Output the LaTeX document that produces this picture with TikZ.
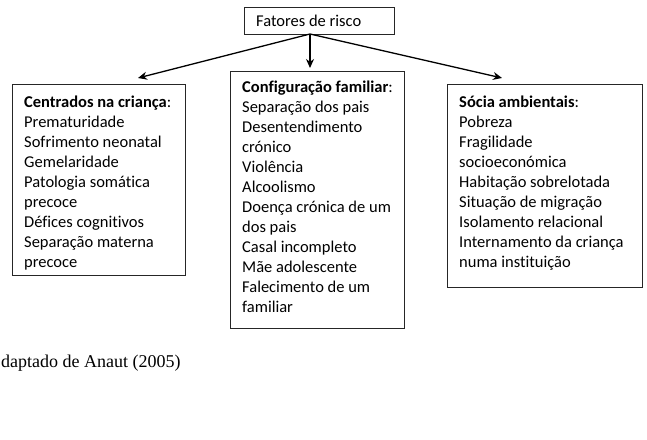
\documentclass[tikz,border=0pt]{standalone}
\usepackage{fontspec}
\setmainfont{Carlito}[Ligatures=CommonOff]
\newfontfamily\capfont{Liberation Serif}
\usetikzlibrary{arrows.meta}
\begin{document}
\begin{tikzpicture}[x=1pt,y=-1pt,
  boxstyle/.style={draw=black!85, line width=1pt, inner sep=0pt},
  txt/.style={anchor=north west, align=left, inner sep=0pt, font=\fontsize{16.5}{20}\selectfont},
  arr/.style={line width=1.3pt, -{Stealth[length=9pt,width=8pt]}}]
\useasboundingbox (0,0) rectangle (647,439);
\fill[white] (0,0) rectangle (647,439);
% boxes
\node[boxstyle, minimum width=150pt, minimum height=27pt, anchor=north west] (top) at (244,7) {};
\node[anchor=base west, inner sep=0pt, font=\fontsize{16.5}{20}\selectfont] (toptxt) at (256,26) {Fatores de risco};
\node[boxstyle, minimum width=173pt, minimum height=191pt, anchor=north west] (left) at (12,84) {};
\node[boxstyle, minimum width=174pt, minimum height=257pt, anchor=north west] (mid) at (230,71) {};
\node[boxstyle, minimum width=195pt, minimum height=203pt, anchor=north west] (right) at (447,84) {};
% texts
\node[txt] (lefttxt) at (24,93.5) {\strut\textbf{Centrados na criança}:\\
Prematuridade\\
Sofrimento neonatal\\
Gemelaridade\\
Patologia somática\\
precoce\\
Défices cognitivos\\
Separação materna\\
precoce};
\node[txt] (midtxt) at (242,78.5) {\strut\textbf{Configuração familiar}:\\
Separação dos pais\\
Desentendimento\\
crónico\\
Violência\\
Alcoolismo\\
Doença crónica de um\\
dos pais\\
Casal incompleto\\
Mãe adolescente\\
Falecimento de um\\
familiar};
\node[txt] (righttxt) at (459,93.5) {\strut\textbf{Sócia ambientais}:\\
Pobreza\\
Fragilidade\\
socioeconómica\\
Habitação sobrelotada\\
Situação de migração\\
Isolamento relacional\\
Internamento da criança\\
numa instituição};
% arrows
\coordinate (src) at (310,34);
\coordinate (tipl) at (138,78);
\coordinate (tipm) at (310,68);
\coordinate (tipr) at (502,78);
\draw[arr] (src) -- (tipl);
\draw[arr] (src) -- (tipm);
\draw[arr] (src) -- (tipr);
% caption
\node[anchor=base west, inner sep=0pt, font=\capfont\fontsize{18}{20}\selectfont] (cap) at (1,367) {daptado de Anaut (2005)};
\end{tikzpicture}
\end{document}
